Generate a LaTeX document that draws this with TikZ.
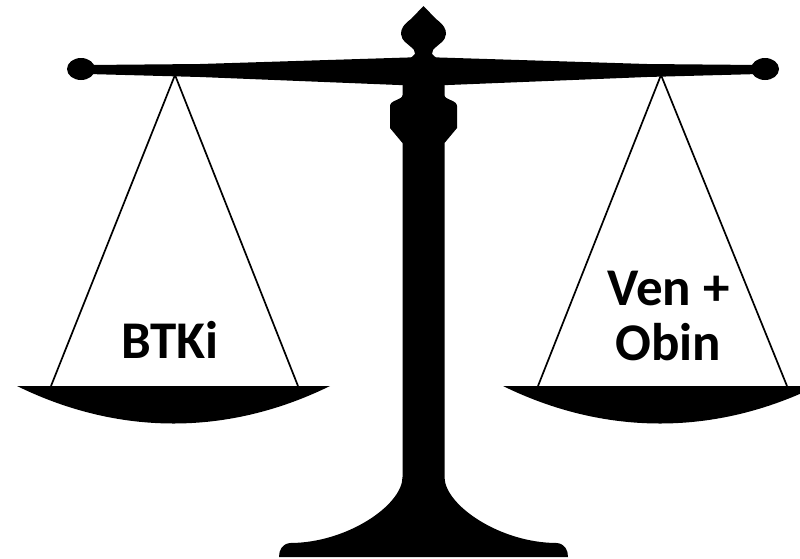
\documentclass[tikz,border=0pt]{standalone}
\usepackage{fontspec}
\usepackage{tikz}
\newfontfamily\panfont{Carlito}

\begin{document}
\begin{tikzpicture}[
    x=1pt, y=-1pt,
    solid/.style={fill=black, draw=none},
    string/.style={draw=black, line width=1.7pt},
    panlabel/.style={font=\panfont\bfseries\fontsize{53}{55}\selectfont,
                     text=black, align=center, inner sep=0pt, anchor=base}
]
\useasboundingbox (0,0) rectangle (800,558);

% Beam with end knobs
\fill[solid] (88,65) -- (200,64) -- (423.5,57) -- (647,64) -- (759,65)
    -- (759,74) -- (647,77) -- (423.5,86) -- (200,77) -- (88,74) -- cycle;
\fill[solid] (81,69) ellipse [x radius=14, y radius=11];
\fill[solid] (765,69) ellipse [x radius=14, y radius=11];

% Finial on top
\fill[solid] (423.5,6) -- (411,19) .. controls (403,25) and (401,29) .. (401,34)
    .. controls (401,41) and (410,45) .. (414,50) -- (415,54)
    .. controls (414,56) and (410,57) .. (410,60) -- (437,60)
    .. controls (437,57) and (433,56) .. (432,54) -- (433,50)
    .. controls (437,45) and (446,41) .. (446,34)
    .. controls (446,29) and (444,25) .. (436,19) -- cycle;

% Column, collar and foot
\fill[solid] (402.5,84) -- (402.5,95) .. controls (402.5,100) and (390,100) .. (390,106)
    -- (390,128) -- (402.5,143) -- (402.5,477)
    .. controls (402.5,505) and (347,543) .. (290,543)
    .. controls (282,544) and (279,550) .. (279,557)
    -- (568,557) .. controls (568,550) and (565,544) .. (557,543)
    .. controls (500,543) and (444.5,505) .. (444.5,477)
    -- (444.5,143) -- (457,128) -- (457,106)
    .. controls (457,100) and (444.5,100) .. (444.5,95) -- (444.5,84) -- cycle;

% Hanging points and pan rims
\coordinate (lhook) at (175,75);
\coordinate (rhook) at (661,75);
\coordinate (lrimA) at (51,386);
\coordinate (lrimB) at (298,386);
\coordinate (rrimA) at (538,386);
\coordinate (rrimB) at (787,386);

% Strings
\draw[string] (lrimA) -- (lhook) -- (lrimB);
\draw[string] (rrimA) -- (rhook) -- (rrimB);

% Pans
\fill[solid] (17,386) -- (330,386) .. controls (228,436) and (119,436) .. (17,386) -- cycle;
\fill[solid] (503,386) -- (817,386) .. controls (715,436) and (605,436) .. (503,386) -- cycle;

% Labels
\node[panlabel] (left) at (170,358) {BTKi};
\node[panlabel] (right) at (668.5,360) {Ven +\\Obin};

\end{tikzpicture}
\end{document}
